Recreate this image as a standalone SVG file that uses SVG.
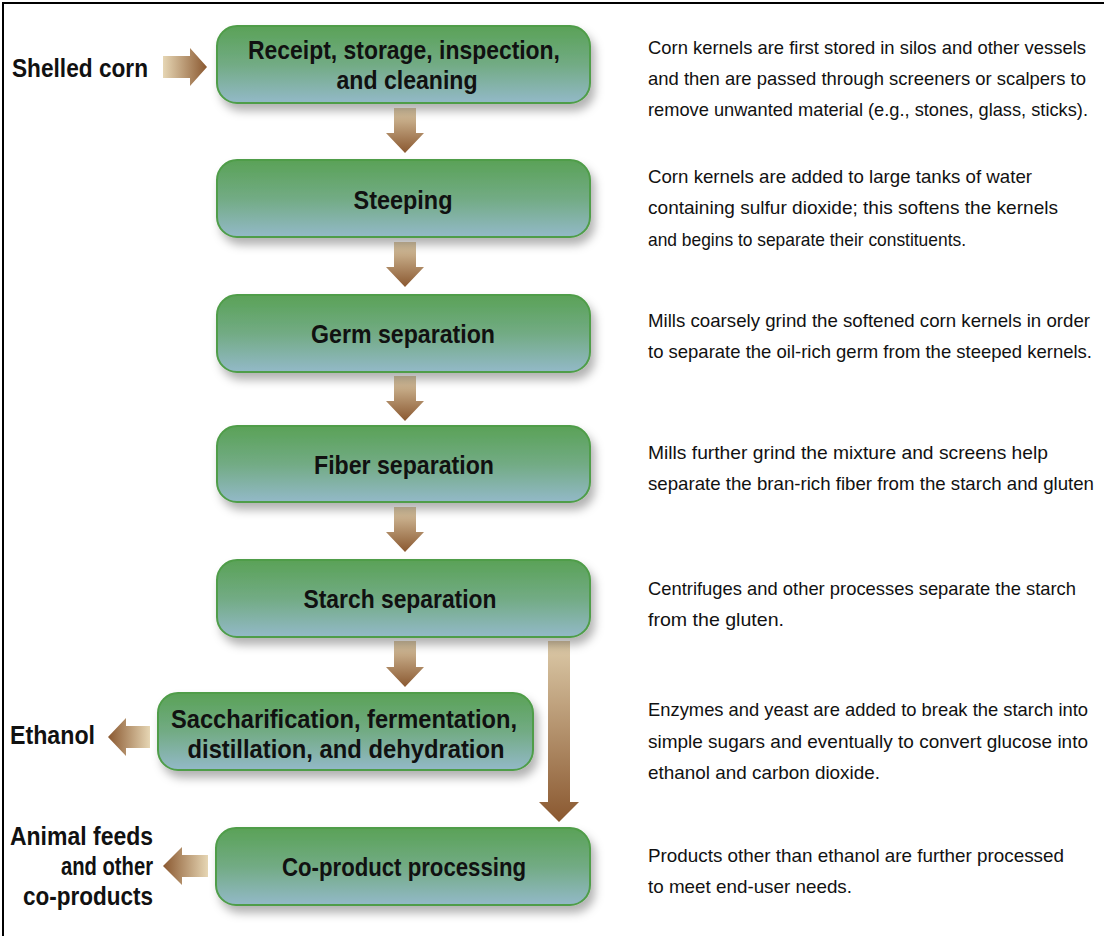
<svg xmlns="http://www.w3.org/2000/svg" width="1104" height="936" viewBox="0 0 1104 936">
<defs>
<linearGradient id="boxg" x1="0" y1="0" x2="0" y2="1">
<stop offset="0" stop-color="#5aa257"/>
<stop offset="0.5" stop-color="#72ab84"/>
<stop offset="1" stop-color="#93b9c8"/>
</linearGradient>
<linearGradient id="ad" x1="0" y1="0" x2="0" y2="1">
<stop offset="0" stop-color="#dccaa8"/>
<stop offset="1" stop-color="#8a5830"/>
</linearGradient>
<linearGradient id="ar" x1="0" y1="0" x2="1" y2="0">
<stop offset="0" stop-color="#e6d6b4"/>
<stop offset="1" stop-color="#8a5830"/>
</linearGradient>
<linearGradient id="al" x1="1" y1="0" x2="0" y2="0">
<stop offset="0" stop-color="#e6d6b4"/>
<stop offset="1" stop-color="#8a5830"/>
</linearGradient>
<filter id="sh" x="-10%" y="-20%" width="120%" height="160%">
<feDropShadow dx="4" dy="7" stdDeviation="5" flood-color="#000" flood-opacity="0.3"/>
</filter>
</defs>
<style>
.box{fill:url(#boxg);stroke:#4f9d49;stroke-width:2;filter:url(#sh)}
.bt{font-family:"Liberation Sans",Arial,sans-serif;font-weight:bold;font-size:26px;fill:#111;text-anchor:middle}
.lt{font-family:"Liberation Sans",Arial,sans-serif;font-weight:bold;font-size:25px;fill:#111}
.dt{font-family:"Liberation Sans",Arial,sans-serif;font-size:19px;fill:#111}
</style>
<rect x="0" y="0" width="1104" height="936" fill="#fff"/>
<path d="M3 936 V3 H1104" fill="none" stroke="#000" stroke-width="2"/>

<g id="connectors">
<path d="M163 56 H190 V48 L207 67 L190 86 V78 H163 Z" fill="url(#ar)"/>
<path d="M394 108 H416 V133 H424 L405 153 L386 133 H394 Z" fill="url(#ad)"/>
<path d="M394 242 H416 V267 H424 L405 287 L386 267 H394 Z" fill="url(#ad)"/>
<path d="M394 376 H416 V401 H424 L405 421 L386 401 H394 Z" fill="url(#ad)"/>
<path d="M394 507 H416 V532 H424 L405 552 L386 532 H394 Z" fill="url(#ad)"/>
<path d="M394 641 H416 V667 H424 L405 687 L386 667 H394 Z" fill="url(#ad)"/>
<path d="M548 641 H570 V802 H579 L559 822 L539 802 H548 Z" fill="url(#ad)"/>
<path d="M150 726 H126 V718 L108 737 L126 756 V748 H150 Z" fill="url(#al)"/>
<path d="M208 855 H182 V847 L163 866 L182 885 V877 H208 Z" fill="url(#al)"/>
</g>

<g id="n-receipt">
<rect class="box" x="217" y="26" width="373" height="77" rx="20"/>
<text class="bt" x="404" y="59" textLength="312" lengthAdjust="spacingAndGlyphs">Receipt, storage, inspection,</text>
<text class="bt" x="407" y="89" textLength="141" lengthAdjust="spacingAndGlyphs">and cleaning</text>
</g>
<g id="n-steeping">
<rect class="box" x="217" y="160" width="373" height="77" rx="20"/>
<text class="bt" x="403" y="209" textLength="99" lengthAdjust="spacingAndGlyphs">Steeping</text>
</g>
<g id="n-germ">
<rect class="box" x="217" y="295" width="373" height="77" rx="20"/>
<text class="bt" x="403" y="343" textLength="184" lengthAdjust="spacingAndGlyphs">Germ separation</text>
</g>
<g id="n-fiber">
<rect class="box" x="217" y="426" width="373" height="76" rx="20"/>
<text class="bt" x="404" y="474" textLength="180" lengthAdjust="spacingAndGlyphs">Fiber separation</text>
</g>
<g id="n-starch">
<rect class="box" x="217" y="560" width="373" height="77" rx="20"/>
<text class="bt" x="400" y="608" textLength="193" lengthAdjust="spacingAndGlyphs">Starch separation</text>
</g>
<g id="n-sacch">
<rect class="box" x="158" y="693" width="375" height="77" rx="20"/>
<text class="bt" x="344" y="728" textLength="346" lengthAdjust="spacingAndGlyphs">Saccharification, fermentation,</text>
<text class="bt" x="346" y="758" textLength="317" lengthAdjust="spacingAndGlyphs">distillation, and dehydration</text>
</g>
<g id="n-coproduct">
<rect class="box" x="216" y="828" width="374" height="77" rx="20"/>
<text class="bt" x="404" y="876" textLength="244" lengthAdjust="spacingAndGlyphs">Co-product processing</text>
</g>

<g id="inputs-outputs">
<text class="lt" x="12" y="77" textLength="136" lengthAdjust="spacingAndGlyphs">Shelled corn</text>
<text class="lt" x="10" y="744" textLength="85" lengthAdjust="spacingAndGlyphs">Ethanol</text>
<text class="lt" x="153" y="845" text-anchor="end" textLength="143" lengthAdjust="spacingAndGlyphs">Animal feeds</text>
<text class="lt" x="153" y="875" text-anchor="end" textLength="92" lengthAdjust="spacingAndGlyphs">and other</text>
<text class="lt" x="153" y="905" text-anchor="end" textLength="130" lengthAdjust="spacingAndGlyphs">co-products</text>
</g>

<g id="descriptions">
<text class="dt" x="648" y="54" textLength="438" lengthAdjust="spacingAndGlyphs">Corn kernels are first stored in silos and other vessels</text>
<text class="dt" x="648" y="85" textLength="438" lengthAdjust="spacingAndGlyphs">and then are passed through screeners or scalpers to</text>
<text class="dt" x="648" y="116" font-size="17.5" textLength="440" lengthAdjust="spacingAndGlyphs">remove unwanted material (e.g., stones, glass, sticks).</text>
<text class="dt" x="648" y="183" textLength="384" lengthAdjust="spacingAndGlyphs">Corn kernels are added to large tanks of water</text>
<text class="dt" x="648" y="214" textLength="410" lengthAdjust="spacingAndGlyphs">containing sulfur dioxide; this softens the kernels</text>
<text class="dt" x="648" y="246" textLength="318" lengthAdjust="spacingAndGlyphs">and begins to separate their constituents.</text>
<text class="dt" x="648" y="327" textLength="442" lengthAdjust="spacingAndGlyphs">Mills coarsely grind the softened corn kernels in order</text>
<text class="dt" x="648" y="358" textLength="444" lengthAdjust="spacingAndGlyphs">to separate the oil-rich germ from the steeped kernels.</text>
<text class="dt" x="648" y="459" textLength="400" lengthAdjust="spacingAndGlyphs">Mills further grind the mixture and screens help</text>
<text class="dt" x="648" y="490" textLength="446" lengthAdjust="spacingAndGlyphs">separate the bran-rich fiber from the starch and gluten</text>
<text class="dt" x="648" y="595" textLength="428" lengthAdjust="spacingAndGlyphs">Centrifuges and other processes separate the starch</text>
<text class="dt" x="648" y="626" textLength="136" lengthAdjust="spacingAndGlyphs">from the gluten.</text>
<text class="dt" x="648" y="716" textLength="440" lengthAdjust="spacingAndGlyphs">Enzymes and yeast are added to break the starch into</text>
<text class="dt" x="648" y="748" textLength="440" lengthAdjust="spacingAndGlyphs">simple sugars and eventually to convert glucose into</text>
<text class="dt" x="648" y="779" textLength="232" lengthAdjust="spacingAndGlyphs">ethanol and carbon dioxide.</text>
<text class="dt" x="648" y="862" textLength="416" lengthAdjust="spacingAndGlyphs">Products other than ethanol are further processed</text>
<text class="dt" x="648" y="893" textLength="204" lengthAdjust="spacingAndGlyphs">to meet end-user needs.</text>
</g>
</svg>
